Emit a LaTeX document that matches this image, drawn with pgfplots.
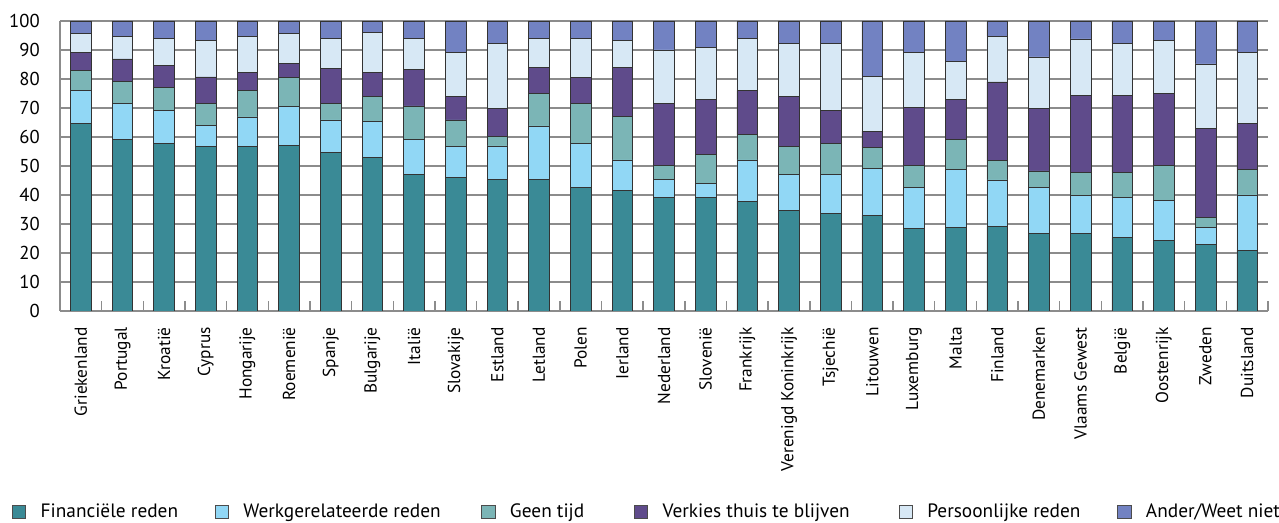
\documentclass[border=0pt]{standalone}
\usepackage{fontspec}
\setmainfont{PT Sans}
\usepackage{pgfplots}
\pgfplotsset{compat=1.18}
\usepackage{pgfplotstable}

\definecolor{cfin}{RGB}{58,138,150}
\definecolor{cwerk}{RGB}{145,215,245}
\definecolor{cgeen}{RGB}{123,181,182}
\definecolor{cverk}{RGB}{95,75,139}
\definecolor{cpers}{RGB}{215,232,245}
\definecolor{cander}{RGB}{114,130,194}
\definecolor{cgrid}{RGB}{140,140,140}

\pgfplotsset{
  sqleg/.style={legend image code/.code={\draw[##1,draw=black!70,line width=0.5pt] (0pt,-5pt) rectangle (10pt,5pt);}},
}

% x fin werk geen verk pers ander
\pgfplotstableread{
x  fin  werk geen verk pers ander
0  64.7 11.3 7.0  6.3  6.3  4.4
1  59.2 12.5 7.5  7.7  7.9  5.2
2  57.8 11.4 7.8  7.7  9.3  6.0
3  56.7 7.3  7.6  9.1  12.6 6.7
4  56.7 10.2 9.2  6.3  12.4 5.2
5  57.1 13.5 10.0 4.8  10.3 4.3
6  54.8 11.1 5.7  12.1 10.2 6.1
7  53.0 12.4 8.5  8.3  13.9 3.9
8  47.2 12.0 11.5 12.6 10.6 6.1
9  46.1 10.6 9.2  8.2  15.1 10.8
10 45.4 11.5 3.2  9.8  22.3 7.8
11 45.4 18.4 11.1 9.0  10.0 6.1
12 42.6 15.1 13.9 9.0  13.3 6.1
13 41.5 10.6 15.0 16.8 9.3  6.8
14 39.2 6.1  4.8  21.6 18.3 10.0
15 39.2 4.7  10.1 19.0 17.9 9.1
16 37.9 14.2 8.7  15.3 17.8 6.1
17 34.7 12.4 9.7  17.2 18.2 7.8
18 33.7 13.4 10.6 11.5 23.0 7.8
19 33.0 16.2 7.1  5.7  18.9 19.1
20 28.4 14.2 7.5  20.0 19.1 10.8
21 28.9 20.0 10.3 13.8 13.1 13.9
22 29.1 16.1 6.8  27.0 15.8 5.2
23 26.8 15.8 5.7  21.6 17.7 12.4
24 26.8 13.0 7.9  26.7 19.4 6.2
25 25.4 13.7 8.6  26.7 17.9 7.7
26 24.4 13.8 12.0 24.9 18.1 6.8
27 23.0 5.9  3.4  30.6 22.3 14.8
28 21.0 19.0 8.9  15.8 24.5 10.8
}\data

\begin{document}
\begin{tikzpicture}
\useasboundingbox (-45pt,-159pt) rectangle (914.25pt,233.25pt);
\begin{axis}[
    scale only axis,
    width=906pt, height=217.5pt,
    ybar stacked, bar width=15.5pt,
    xmin=-0.5, xmax=28.5, ymin=0, ymax=100,
    ytick={0,10,...,100},
    xtick={0,...,28},
    xticklabels={Griekenland,Portugal,Kroatië,Cyprus,Hongarije,Roemenië,Spanje,Bulgarije,Italië,Slovakije,Estland,Letland,Polen,Ierland,Nederland,Slovenië,Frankrijk,Verenigd Koninkrijk,Tsjechië,Litouwen,Luxemburg,Malta,Finland,Denemarken,Vlaams Gewest,België,Oostenrijk,Zweden,Duitsland},
    minor xtick={-0.5,0.5,...,28.5},
    tick align=inside,
    major tick length=0pt, minor tick length=7.5pt,
    axis lines*=left,
    axis line style={draw=cgrid, line width=1.1pt},
    ymajorgrids,
    grid style={draw=cgrid, line width=1.1pt},
    ytick style={draw=none},
    minor x tick style={draw=cgrid, line width=1.1pt},
    major x tick style={draw=none},
    xticklabel style={font=\fontsize{13}{15}\selectfont, rotate=90, anchor=east, inner sep=0pt},
    yticklabel style={font=\fontsize{14}{16}\selectfont, inner sep=0pt},
    /pgf/number format/assume math mode=true,
    xticklabel shift=12pt,
    yticklabel shift=15pt,
    legend columns=6,
    legend style={at={(-0.03974,-0.6931)}, anchor=west, draw=none, fill=none,
      inner sep=0pt, outer sep=0pt, column sep=0pt,
      font=\fontsize{14.5}{16}\selectfont,
      nodes={inner sep=0pt},
      /tikz/every odd column/.append style={column sep=11pt}},
    every axis plot/.append style={draw=black!80, line width=0.5pt, bar shift=0pt},
  ]
  \addplot[fill=cfin, sqleg] table[x=x, y=fin] {\data};
  \addplot[fill=cwerk, sqleg] table[x=x, y=werk] {\data};
  \addplot[fill=cgeen, sqleg] table[x=x, y=geen] {\data};
  \addplot[fill=cverk, sqleg] table[x=x, y=verk] {\data};
  \addplot[fill=cpers, sqleg] table[x=x, y=pers] {\data};
  \addplot[fill=cander, sqleg] table[x=x, y=ander] {\data};
  \addlegendentry{\makebox[130.5pt][l]{Financiële reden}}
  \addlegendentry{\makebox[178.5pt][l]{Werkgerelateerde reden}}
  \addlegendentry{\makebox[93pt][l]{Geen tijd}}
  \addlegendentry{\makebox[177pt][l]{Verkies thuis te blijven}}
  \addlegendentry{\makebox[142.5pt][l]{Persoonlijke reden}}
  \addlegendentry{Ander/Weet niet}
\end{axis}
\end{tikzpicture}
\end{document}
